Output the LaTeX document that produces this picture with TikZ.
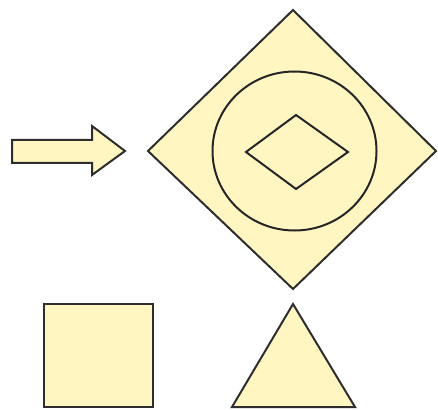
\documentclass[tikz,border=0pt]{standalone}
\begin{document}
\begin{tikzpicture}[x=1pt,y=-1pt,
  shapefill/.style={fill=pale, draw=black!82, line width=2pt, line join=miter},
  innerline/.style={draw=black!85, line width=2pt}]
\definecolor{pale}{RGB}{255,246,194}
\useasboundingbox (0,0) rectangle (438,411);
% arrow
\draw[shapefill] (12,140) -- (92,140) -- (92,126) -- (125,151) -- (92,175) -- (92,163) -- (12,163) -- cycle;
% big diamond
\draw[shapefill] (148,151) -- (293,10) -- (436,151) -- (293,289) -- cycle;
% circle
\draw[innerline] (294.5,151) ellipse [x radius=82, y radius=79.5];
% small diamond
\draw[innerline] (246,152) -- (296,115) -- (348,152) -- (296,189) -- cycle;
% square
\draw[shapefill] (44,304) rectangle (153,407);
% triangle
\draw[shapefill] (293,304) -- (355,407) -- (232,407) -- cycle;
\end{tikzpicture}
\end{document}
